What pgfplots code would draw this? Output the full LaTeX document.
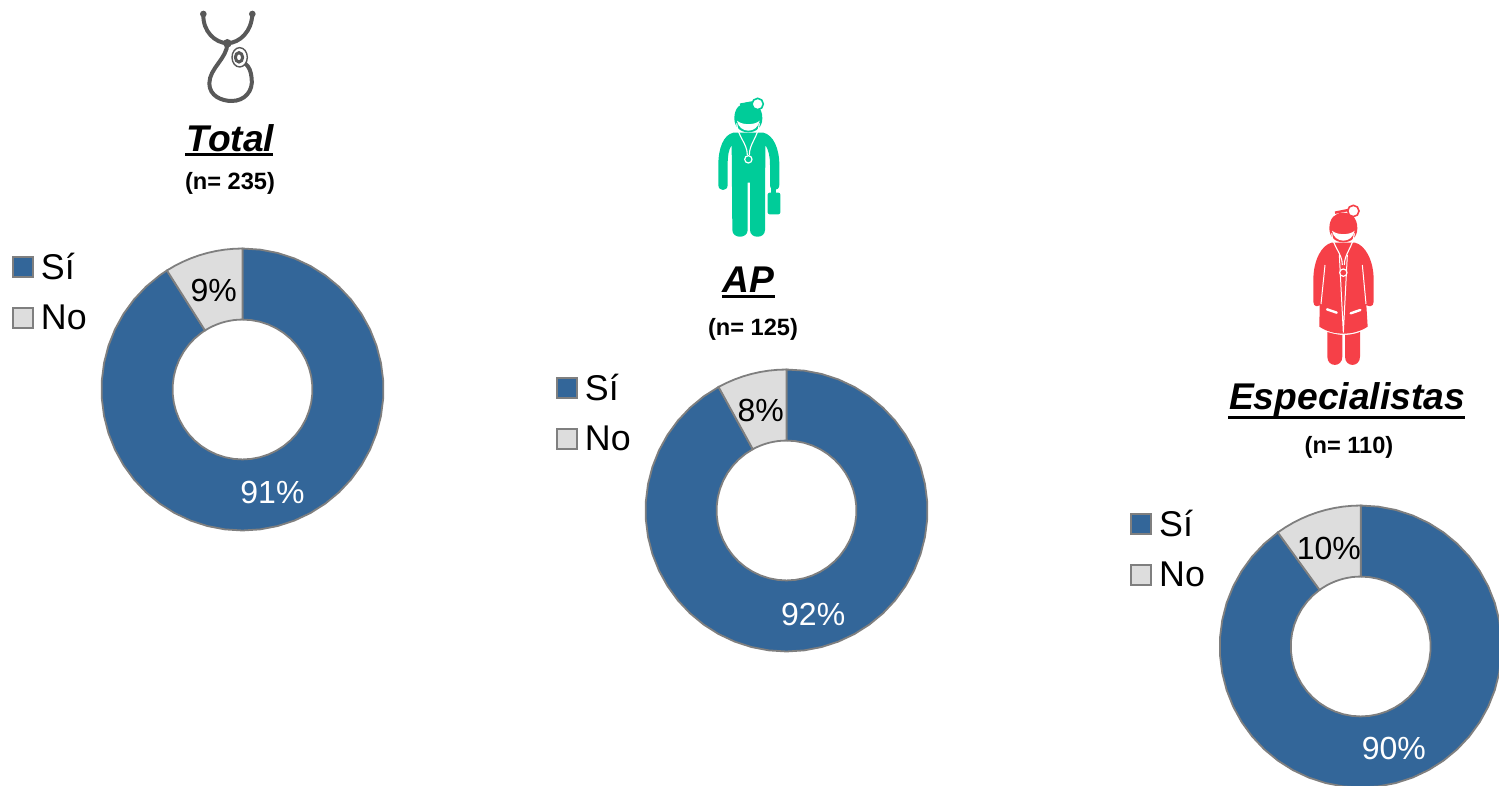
\documentclass[border=0pt]{standalone}
\usepackage{fontspec}
\setmainfont{Liberation Sans}
\usepackage{pgfplots}
\pgfplotsset{compat=1.18}
\usepgfplotslibrary{polar}
\definecolor{azul}{HTML}{336699}
\definecolor{gris}{HTML}{DDDDDD}
\definecolor{borde}{HTML}{7F7F7F}
\definecolor{verde}{HTML}{00CC99}
\definecolor{rojo}{HTML}{F64048}
\definecolor{fonendo}{HTML}{595959}
% one picture unit is one pixel of the reference, y running down
\newcommand{\fs}[1]{\fontsize{#1}{1.2\dimexpr#1pt\relax}\selectfont}
% donut axes: x is the percentage round the ring, y the radius
\pgfplotsset{
  donut/.style={
    scale only axis, width=141pt, height=141pt,
    anchor=center, hide axis, clip=false,
    xmin=0, xmax=360, ymin=0, ymax=1,
    x filter/.expression={90+3.6*x},
    legend style={at={(-0.319,0.984)}, anchor=north west, draw=none, fill=none,
      inner sep=0pt, outer sep=0pt, font=\fs{17.9}, row sep=11.3pt,
      nodes={inner xsep=3.7pt, inner ysep=0pt}},
    legend cell align=left,
    legend image code/.code={\draw[##1, line width=1pt] (0pt,-4.5pt) rectangle (10pt,5.5pt);},
  },
  slice/.style={draw=borde, line width=.9pt, fill=#1},
  lab/.style={draw=none, mark=none, forget plot, point meta=explicit symbolic,
    nodes near coords, every node near coord/.append style={anchor=center, inner sep=0pt, font=\fs{16}, text=#1}},
}
% head shared by the two doctors
\newcommand{\headicon}[1]{%
  \fill[#1] (175,38) .. controls (150,38) and (133,55) .. (133,85)
    .. controls (133,110) and (150,127) .. (175,127)
    .. controls (200,127) and (217,110) .. (217,85)
    .. controls (217,55) and (200,38) .. (175,38) -- cycle;
  \fill[white] (141,92) .. controls (155,106) and (195,106) .. (209,92)
    .. controls (202,132) and (148,132) .. (141,92) -- cycle;
}
\begin{document}
\begin{tikzpicture}[x=.5pt, y=-.5pt]
\path[use as bounding box] (0,0) rectangle (1499,786);
\coordinate (cT) at (242.5,389.5);
\coordinate (cA) at (786.5,510.5);
\coordinate (cE) at (1360.7,646.5);

% Total
\begin{polaraxis}[donut, at={(cT)}]
\addplot[slice=azul] coordinates {(9,1)(10,1)(12,1)(14,1)(16,1)(18,1)(20,1)(22,1)(24,1)(26,1)(28,1)(30,1)(32,1)(34,1)(36,1)(38,1)(40,1)(42,1)(44,1)(46,1)(48,1)(50,1)(52,1)(54,1)(56,1)(58,1)(60,1)(62,1)(64,1)(66,1)(68,1)(70,1)(72,1)(74,1)(76,1)(78,1)(80,1)(82,1)(84,1)(86,1)(88,1)(90,1)(92,1)(94,1)(96,1)(98,1)(100,1)
(100,.496)(98,.496)(96,.496)(94,.496)(92,.496)(90,.496)(88,.496)(86,.496)(84,.496)(82,.496)(80,.496)(78,.496)(76,.496)(74,.496)(72,.496)(70,.496)(68,.496)(66,.496)(64,.496)(62,.496)(60,.496)(58,.496)(56,.496)(54,.496)(52,.496)(50,.496)(48,.496)(46,.496)(44,.496)(42,.496)(40,.496)(38,.496)(36,.496)(34,.496)(32,.496)(30,.496)(28,.496)(26,.496)(24,.496)(22,.496)(20,.496)(18,.496)(16,.496)(14,.496)(12,.496)(10,.496)(9,.496)} --cycle;
\addplot[slice=gris] coordinates {(0,1)(1,1)(2,1)(3,1)(4,1)(5,1)(6,1)(7,1)(8,1)(9,1)
(9,.496)(8,.496)(7,.496)(6,.496)(5,.496)(4,.496)(3,.496)(2,.496)(1,.496)(0,.496)} --cycle;
\legend{Sí,No}
\addplot[lab=white] coordinates {(54.5,.762)[91\%]};
\addplot[lab=black] coordinates {(4.5,.733)[9\%]};
\end{polaraxis}

% AP
\begin{polaraxis}[donut, at={(cA)}]
\addplot[slice=azul] coordinates {(8,1)(10,1)(12,1)(14,1)(16,1)(18,1)(20,1)(22,1)(24,1)(26,1)(28,1)(30,1)(32,1)(34,1)(36,1)(38,1)(40,1)(42,1)(44,1)(46,1)(48,1)(50,1)(52,1)(54,1)(56,1)(58,1)(60,1)(62,1)(64,1)(66,1)(68,1)(70,1)(72,1)(74,1)(76,1)(78,1)(80,1)(82,1)(84,1)(86,1)(88,1)(90,1)(92,1)(94,1)(96,1)(98,1)(100,1)
(100,.496)(98,.496)(96,.496)(94,.496)(92,.496)(90,.496)(88,.496)(86,.496)(84,.496)(82,.496)(80,.496)(78,.496)(76,.496)(74,.496)(72,.496)(70,.496)(68,.496)(66,.496)(64,.496)(62,.496)(60,.496)(58,.496)(56,.496)(54,.496)(52,.496)(50,.496)(48,.496)(46,.496)(44,.496)(42,.496)(40,.496)(38,.496)(36,.496)(34,.496)(32,.496)(30,.496)(28,.496)(26,.496)(24,.496)(22,.496)(20,.496)(18,.496)(16,.496)(14,.496)(12,.496)(10,.496)(8,.496)} --cycle;
\addplot[slice=gris] coordinates {(0,1)(1,1)(2,1)(3,1)(4,1)(5,1)(6,1)(7,1)(8,1)
(8,.496)(7,.496)(6,.496)(5,.496)(4,.496)(3,.496)(2,.496)(1,.496)(0,.496)} --cycle;
\legend{Sí,No}
\addplot[lab=white] coordinates {(54,.762)[92\%]};
\addplot[lab=black] coordinates {(4,.733)[8\%]};
\end{polaraxis}

% Especialistas
\begin{polaraxis}[donut, at={(cE)}]
\addplot[slice=azul] coordinates {(10,1)(12,1)(14,1)(16,1)(18,1)(20,1)(22,1)(24,1)(26,1)(28,1)(30,1)(32,1)(34,1)(36,1)(38,1)(40,1)(42,1)(44,1)(46,1)(48,1)(50,1)(52,1)(54,1)(56,1)(58,1)(60,1)(62,1)(64,1)(66,1)(68,1)(70,1)(72,1)(74,1)(76,1)(78,1)(80,1)(82,1)(84,1)(86,1)(88,1)(90,1)(92,1)(94,1)(96,1)(98,1)(100,1)
(100,.496)(98,.496)(96,.496)(94,.496)(92,.496)(90,.496)(88,.496)(86,.496)(84,.496)(82,.496)(80,.496)(78,.496)(76,.496)(74,.496)(72,.496)(70,.496)(68,.496)(66,.496)(64,.496)(62,.496)(60,.496)(58,.496)(56,.496)(54,.496)(52,.496)(50,.496)(48,.496)(46,.496)(44,.496)(42,.496)(40,.496)(38,.496)(36,.496)(34,.496)(32,.496)(30,.496)(28,.496)(26,.496)(24,.496)(22,.496)(20,.496)(18,.496)(16,.496)(14,.496)(12,.496)(10,.496)} --cycle;
\addplot[slice=gris] coordinates {(0,1)(1,1)(2,1)(3,1)(4,1)(5,1)(6,1)(7,1)(8,1)(9,1)(10,1)
(10,.496)(9,.496)(8,.496)(7,.496)(6,.496)(5,.496)(4,.496)(3,.496)(2,.496)(1,.496)(0,.496)} --cycle;
\legend{Sí,No}
\addplot[lab=white] coordinates {(55,.762)[90\%]};
\addplot[lab=black] coordinates {(5,.733)[10\%]};
\end{polaraxis}

% titles
\node[font=\fs{18.6}\bfseries\itshape] at (230.5,138) {Total};
\draw[line width=1.5pt] (185,155) -- (273,155);
\node[font=\fs{11.8}\bfseries] at (230,183) {(n= 235)};
\node[font=\fs{18.6}\bfseries\itshape] at (748.5,280) {AP};
\draw[line width=1.5pt] (722,297) -- (775,297);
\node[font=\fs{11.8}\bfseries] at (753,329) {(n= 125)};
\node[font=\fs{18.6}\bfseries\itshape] at (1347,400) {Especialistas};
\draw[line width=1.5pt] (1228,417) -- (1465,417);
\node[font=\fs{11.8}\bfseries] at (1349,447) {(n= 110)};

% stethoscope
\begin{scope}[shift={(170,0)}, x=.5pt/3, y=-.5pt/3]
\draw[fonendo, line width=2pt, line cap=round]
  (100,42) .. controls (98,95) and (135,128) .. (172,130)
  .. controls (210,128) and (245,95) .. (247,42);
\draw[fonendo, line width=2pt]
  (172,130) .. controls (172,175) and (118,205) .. (118,250)
  .. controls (118,288) and (155,303) .. (185,303)
  .. controls (225,303) and (250,272) .. (245,235)
  .. controls (243,215) and (238,200) .. (225,190);
\fill[fonendo] (100,42) circle (10) (247,42) circle (10) (172,130) circle (13);
\draw[fonendo, fill=white, line width=.7pt] (209,172) ellipse (23 and 29);
\draw[fonendo, fill=white, line width=1.5pt] (207,172) ellipse (11 and 14);
\end{scope}

% doctor, green
\begin{scope}[shift={(690,90)}, x=.5pt/3, y=-.5pt/3]
\headicon{verde}
\fill[verde] (130,128) -- (220,128) .. controls (250,135) and (268,175) .. (268,225)
  -- (268,285) .. controls (268,305) and (240,305) .. (240,285) -- (240,225)
  .. controls (240,200) and (236,180) .. (226,165) -- (225,420)
  .. controls (225,447) and (180,447) .. (180,420) -- (180,278) -- (173,278) -- (173,420)
  .. controls (173,447) and (127,447) .. (127,420) -- (125,165)
  .. controls (115,180) and (113,200) .. (113,225) -- (113,285)
  .. controls (113,305) and (85,305) .. (85,285) -- (85,225)
  .. controls (85,175) and (100,135) .. (130,128) -- cycle;
\fill[verde] (244,295) rectangle (258,312);
\fill[verde, rounded corners=1pt] (233,308) rectangle (271,373);
\draw[white, line width=.55pt] (140,100) .. controls (143,140) and (172,160) .. (172,195);
\draw[white, line width=.55pt] (208,100) .. controls (205,140) and (178,160) .. (178,195);
\draw[white, fill=verde, line width=.6pt] (175,208) circle (11);
\draw[verde, fill=white, line width=.8pt] (203,42) circle (17);
\draw[verde, line width=1.2pt] (150,44) -- (188,37);
\end{scope}

% doctor, red
\begin{scope}[shift={(1285,200)}, x=.5pt/3, y=-.5pt/3]
\headicon{rojo}
\fill[rojo] (140,128) -- (210,128) .. controls (240,135) and (266,180) .. (266,240)
  -- (266,305) .. controls (266,322) and (250,320) .. (244,315) -- (248,380)
  .. controls (225,395) and (200,401) .. (175,401)
  .. controls (150,401) and (125,395) .. (103,380) -- (104,315)
  .. controls (100,320) and (85,322) .. (85,305) -- (85,240)
  .. controls (85,180) and (110,135) .. (140,128) -- cycle;
\fill[rojo] (127,396) .. controls (145,402) and (160,404) .. (172,405) -- (172,470)
  .. controls (172,503) and (127,503) .. (127,470) -- cycle;
\fill[rojo] (180,405) .. controls (195,404) and (210,402) .. (225,396) -- (225,470)
  .. controls (225,503) and (180,503) .. (180,470) -- cycle;
\draw[white, line width=.5pt] (120,195) -- (108,312);
\draw[white, line width=.5pt] (232,195) -- (243,312);
\draw[white, line width=.5pt] (163,165) -- (175,398) -- (187,165);
\draw[white, line width=1.2pt, line cap=round] (126,328) -- (155,338);
\draw[white, line width=1.2pt, line cap=round] (197,340) -- (226,330);
\draw[white, line width=.55pt] (140,100) .. controls (143,140) and (172,160) .. (172,195);
\draw[white, line width=.55pt] (208,100) .. controls (205,140) and (178,160) .. (178,195);
\draw[white, fill=rojo, line width=.6pt] (175,218) circle (11);
\draw[rojo, fill=white, line width=.8pt] (205,33) circle (17);
\draw[rojo, line width=1.2pt] (150,38) -- (190,30);
\end{scope}
\end{tikzpicture}
\end{document}
